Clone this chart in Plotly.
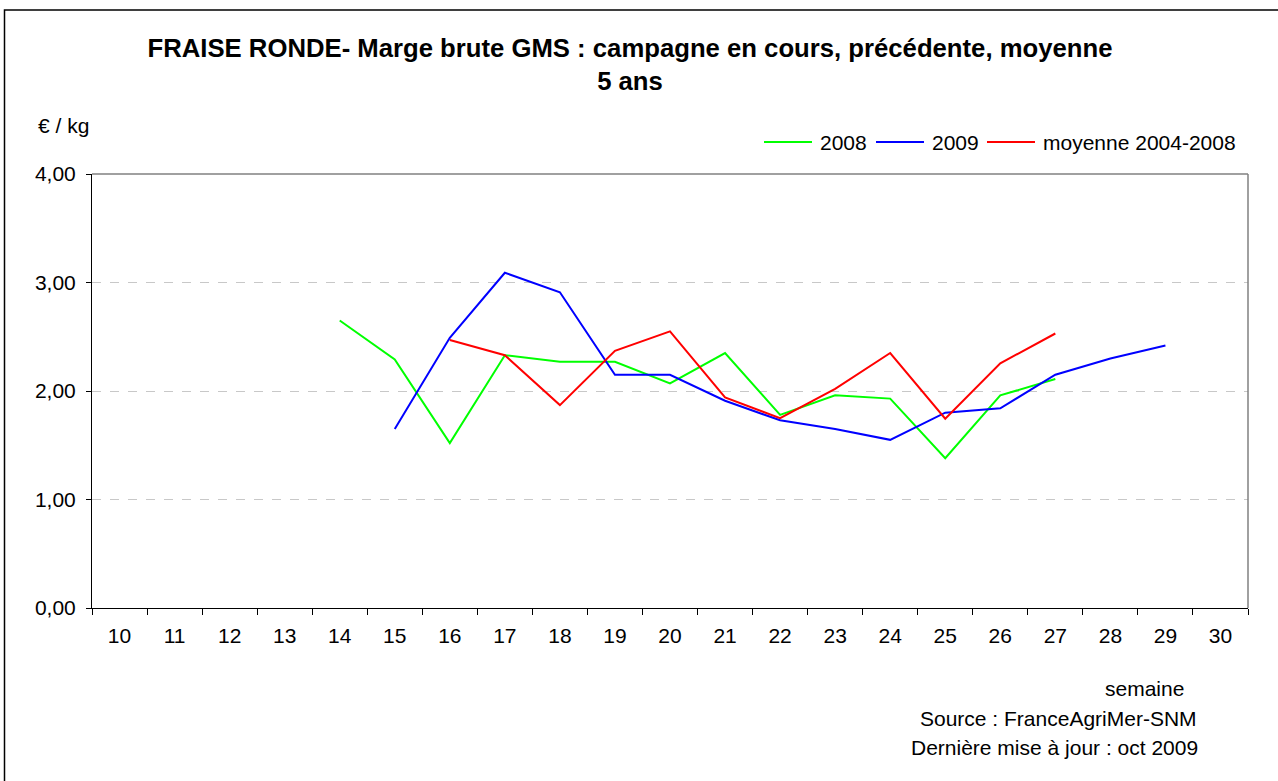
import plotly.graph_objects as go

weeks = [str(w) for w in range(10, 31)]

weeks_2008 = ["14", "15", "16", "17", "18", "19", "20", "21", "22", "23", "24", "25", "26", "27"]
values_2008 = [2.65, 2.29, 1.52, 2.33, 2.27, 2.27, 2.07, 2.35, 1.78, 1.96, 1.93, 1.38, 1.96, 2.11]

weeks_2009 = ["15", "16", "17", "18", "19", "20", "21", "22", "23", "24", "25", "26", "27", "28", "29"]
values_2009 = [1.65, 2.49, 3.09, 2.91, 2.15, 2.15, 1.91, 1.73, 1.65, 1.55, 1.80, 1.84, 2.15, 2.30, 2.42]

weeks_avg = ["16", "17", "18", "19", "20", "21", "22", "23", "24", "25", "26", "27"]
values_avg = [2.47, 2.33, 1.87, 2.37, 2.55, 1.94, 1.75, 2.02, 2.35, 1.745, 2.255, 2.53]

series_names = ["2008", "2009", "moyenne 2004-2008"]
series_colors = ["#00ff00", "#0000ff", "#ff0000"]

FONT = "Liberation Sans, Arial, sans-serif"
FS = 21

fig = go.Figure()
for xs, ys, name, col in zip([weeks_2008, weeks_2009, weeks_avg],
                             [values_2008, values_2009, values_avg],
                             series_names, series_colors):
    fig.add_trace(go.Scatter(x=xs, y=ys, mode="lines", name=name,
                             line=dict(color=col, width=2), showlegend=False))

L, R, T, B = 92, 30, 174, 173
W, H = 1278, 781
pw, ph = W - L - R, H - T - B

def px(x):
    return (x - L) / pw

def py(y):
    return (H - B - y) / ph

shapes = [
    dict(type="line", xref="paper", yref="paper", x0=0, x1=1, y0=1, y1=1,
         line=dict(color="#808080", width=1.5)),
    dict(type="line", xref="paper", yref="paper", x0=1, x1=1, y0=0, y1=1,
         line=dict(color="#808080", width=1.5)),
    dict(type="rect", xref="paper", yref="paper", x0=px(4.5), x1=px(1300),
         y0=py(800), y1=py(10), line=dict(color="black", width=1.5),
         fillcolor="rgba(0,0,0,0)", layer="below"),
]
annotations = [
    dict(text="€ / kg", xref="paper", yref="paper", x=px(36), y=py(125),
         xanchor="left", yanchor="middle", showarrow=False, font=dict(size=FS)),
    dict(text="semaine", xref="paper", yref="paper", x=px(1144), y=py(688),
         xanchor="center", yanchor="middle", showarrow=False, font=dict(size=FS)),
    dict(text="Source : FranceAgriMer-SNM", xref="paper", yref="paper", x=px(1199), y=py(718),
         xanchor="right", yanchor="middle", showarrow=False, font=dict(size=FS)),
    dict(text="Dernière mise à jour : oct 2009", xref="paper", yref="paper", x=px(1200), y=py(747),
         xanchor="right", yanchor="middle", showarrow=False, font=dict(size=FS)),
]

# legend drawn manually (Excel style: long sample lines)
leg_x = [764, 876, 987]
leg_y = 142
for lx, name, col in zip(leg_x, series_names, series_colors):
    shapes.append(dict(type="line", xref="paper", yref="paper", x0=px(lx), x1=px(lx + 48),
                       y0=py(leg_y), y1=py(leg_y), line=dict(color=col, width=2)))
    annotations.append(dict(text=name, xref="paper", yref="paper", x=px(lx + 54), y=py(leg_y),
                            xanchor="left", yanchor="middle", showarrow=False,
                            font=dict(size=FS)))

fig.update_layout(
    width=W, height=H,
    margin=dict(l=L, r=R, t=T, b=B),
    paper_bgcolor="white", plot_bgcolor="white",
    separators=", ",
    font=dict(family=FONT, size=FS, color="black"),
    title=dict(text="<b>FRAISE RONDE- Marge brute GMS : campagne en cours, précédente, moyenne<br>5 ans</b>",
               x=px(630), xref="paper", xanchor="center", y=1 - 57 / H, yanchor="middle",
               font=dict(size=25.7, family=FONT, color="black")),
    showlegend=False,
    xaxis=dict(type="category", categoryorder="array", categoryarray=weeks,
               range=[-0.5, 20.5], tickson="boundaries", ticks="outside", ticklen=6,
               tickcolor="black", showline=True, linecolor="black", linewidth=1,
               showgrid=False, tickfont=dict(size=FS), ticklabelstandoff=9, fixedrange=True),
    yaxis=dict(range=[0, 4], dtick=1, tickformat=".2f", ticks="outside", ticklen=5,
               tickcolor="black", showline=True, linecolor="black", linewidth=1,
               showgrid=True, gridcolor="#c8c8c8", griddash="dash", gridwidth=1,
               zeroline=False, tickfont=dict(size=FS), ticklabelstandoff=6),
    shapes=shapes,
    annotations=annotations,
)

fig.write_html("out.html", config={"displayModeBar": False},
               post_script="document.body.style.margin='0';document.body.style.overflow='hidden';")
